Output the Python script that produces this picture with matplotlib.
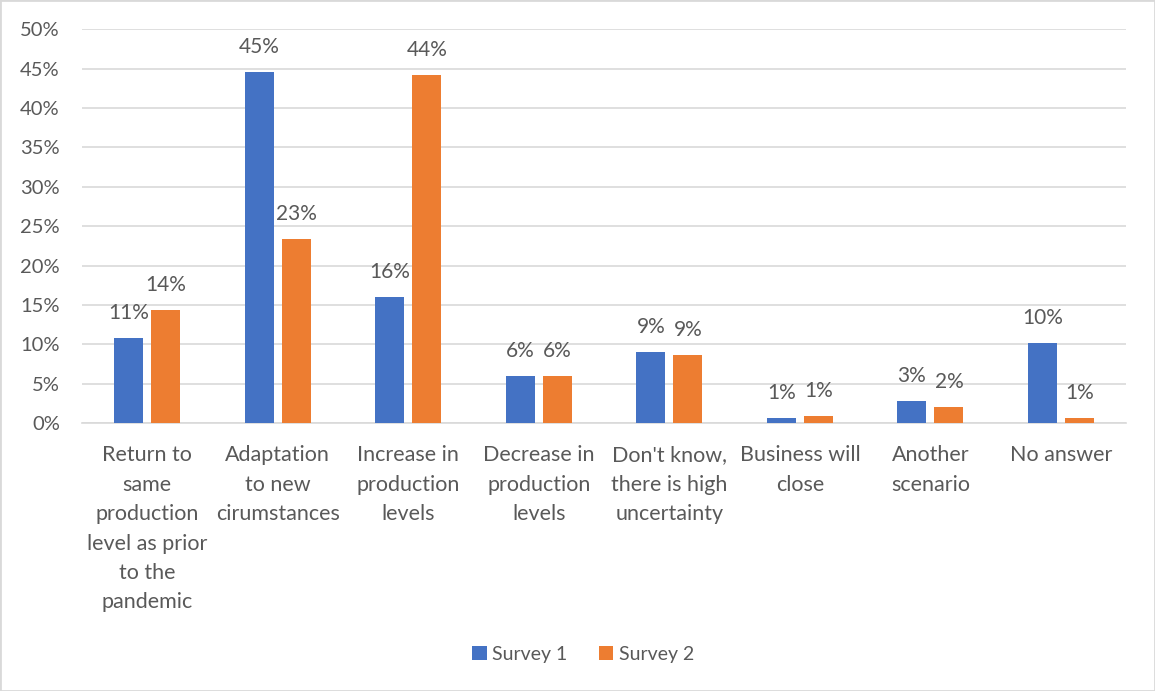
import matplotlib
matplotlib.use("Agg")
import matplotlib.pyplot as plt
import numpy as np
from matplotlib.patches import Rectangle
from matplotlib.ticker import PercentFormatter

categories = [
    "Return to\nsame\nproduction\nlevel as prior\nto the\npandemic",
    "Adaptation\nto new\ncirumstances",
    "Increase in\nproduction\nlevels",
    "Decrease in\nproduction\nlevels",
    "Don't know,\nthere is high\nuncertainty",
    "Business will\nclose",
    "Another\nscenario",
    "No answer",
]
survey1 = [10.8, 44.6, 16.0, 6.0, 9.0, 0.7, 2.8, 10.2]
survey2 = [14.3, 23.4, 44.2, 6.0, 8.6, 0.9, 2.0, 0.7]
series_names = ["Survey 1", "Survey 2"]
colors = ["#4472C4", "#ED7D31"]
text_color = "#595959"

plt.rcParams["font.family"] = ["Lato", "DejaVu Sans"]

fig = plt.figure(figsize=(11.55, 6.91), dpi=100)
ax = fig.add_axes([0.071, 0.3878, 0.904, 0.5698])

x = np.arange(len(categories))
width = 0.222
offset = 0.142

for vals, name, col, sign in zip([survey1, survey2], series_names, colors, [-1, 1]):
    bars = ax.bar(x + sign * offset, vals, width, color=col, label=name, zorder=3)
    for b, v in zip(bars, vals):
        ax.annotate(f"{round(v):.0f}%", (b.get_x() + b.get_width() / 2, v),
                    xytext=(0, 18), textcoords="offset points",
                    ha="center", va="center", fontsize=15, color=text_color, zorder=4)

ax.set_xlim(-0.5, len(categories) - 0.5)
ax.set_ylim(0, 50)
ax.set_yticks(np.arange(0, 51, 5))
ax.yaxis.set_major_formatter(PercentFormatter(decimals=0))
ax.grid(axis="y", color="#d9d9d9", linewidth=1.2, zorder=0)
ax.set_axisbelow(True)
for s in ["top", "right", "left"]:
    ax.spines[s].set_visible(False)
ax.spines["bottom"].set_color("#d9d9d9")
ax.spines["bottom"].set_linewidth(1.2)

ax.set_xticks(x)
ax.set_xticklabels(categories, linespacing=1.59, ha="center", va="top", fontsize=15.5)
ax.tick_params(axis="both", length=0, labelcolor=text_color)
ax.tick_params(axis="y", pad=16, labelsize=14.5)
ax.tick_params(axis="x", pad=16)

fig.legend(loc="center", bbox_to_anchor=(0.505, 0.053), ncol=2, frameon=False,
           fontsize=14, labelcolor=text_color, handlelength=0.75, handleheight=0.75,
           handletextpad=0.3, columnspacing=1.6)

fig.patches.append(Rectangle((0, 0), 1, 1, transform=fig.transFigure,
                             fill=False, edgecolor="#d9d9d9", linewidth=2))

fig.savefig("out.png", dpi=100)
